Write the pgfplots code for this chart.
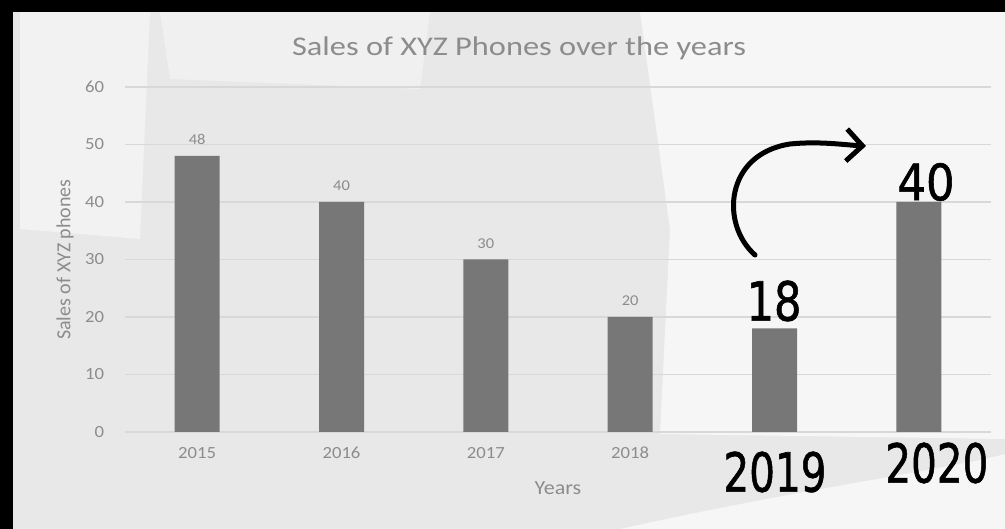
\documentclass[border=0pt]{standalone}
\usepackage{pgfplots}
\pgfplotsset{compat=1.18}
\usetikzlibrary{arrows.meta}
\usepackage{fontspec}
\setmainfont{Carlito}
\newfontfamily\hand[FakeBold=1.2]{DejaVu Sans}
\definecolor{bg}{HTML}{E8E8E8}
\definecolor{wh}{HTML}{F6F6F6}
\definecolor{barc}{HTML}{777777}
\definecolor{txt}{HTML}{8C8C8C}
\definecolor{gridc}{HTML}{D8D8D8}
\begin{document}
\begin{tikzpicture}
\begin{scope}[x=0.5pt,y=0.5pt]
\path[use as bounding box] (0,0) rectangle (1005,529);
\fill[bg] (0,0) rectangle (1005,529);
\fill[wh] (640,517) -- (1005,517) -- (1005,90) -- (660,95) -- (670,300) -- cycle;
\fill[wh!70!bg] (20,517) -- (150,517) -- (140,290) -- (20,300) -- cycle;
\fill[wh!60!bg] (160,517) -- (430,517) -- (420,440) -- (170,450) -- cycle;
\fill[wh] (620,0) .. controls (800,40) and (950,60) .. (1005,75) -- (1005,0) -- cycle;
\fill[black] (0,0) rectangle (13,529);
\fill[black] (0,517) rectangle (1005,529);
\end{scope}
\begin{axis}[
  at={(62.5pt,48.5pt)}, anchor=south west,
  scale only axis, width=433pt, height=172.5pt,
  xmin=-0.5, xmax=5.5, ymin=0, ymax=60,
  ytick={0,10,...,60},
  xtick={0,1,2,3,4,5},
  xticklabels={2015,2016,2017,2018,,},
  xmajorgrids=false, ymajorgrids=true,
  grid style={draw=gridc, line width=0.6pt},
  axis line style={draw=none},
  major tick length=0pt,
  tick label style={font=\fontsize{8.5}{9}\selectfont, text=txt, xscale=1.1},
  /pgf/number format/assume math mode=true,
  yticklabel style={xshift=-6pt},
  xticklabel style={yshift=-4pt},
  xlabel={Years}, ylabel={Sales of XYZ phones},
  label style={font=\fontsize{10}{11}\selectfont, text=txt},
  xlabel style={at={(axis description cs:0.5,0)}, anchor=center, yshift=-28pt, xscale=1.1},
  ylabel style={at={(axis description cs:-0.0693,0.5)}, anchor=center},
  ybar, bar width=22.5pt,
]
\addplot[fill=barc, draw=none, bar shift=0pt,
  nodes near coords,
  every node near coord/.append style={font=\fontsize{7.5}{8}\selectfont, text=txt, xscale=1.1, yshift=2pt}]
  coordinates {(0,48) (1,40) (2,30) (3,20)};
\addplot[fill=barc, draw=none, bar shift=0pt]
  coordinates {(4,18) (5,40)};
\end{axis}
\begin{scope}[x=0.5pt,y=0.5pt]
\node[font=\fontsize{13.5}{15}\selectfont, text=txt, xscale=1.2] at (519,481) {Sales of XYZ Phones over the years};
\node[font=\hand\fontsize{27}{29}\selectfont, xscale=0.8] at (774,228) {18};
\node[font=\hand\fontsize{25}{27}\selectfont, xscale=0.9] at (926,347) {40};
\node[font=\hand\fontsize{27}{29}\selectfont, xscale=0.75] at (775,57) {2019};
\node[font=\hand\fontsize{27}{29}\selectfont, xscale=0.75, anchor=west] at (880,66) {2020};
\draw[line width=2.5pt, line cap=round, -{Straight Barb[length=8pt]}]
  (755,274) .. controls (720,305) and (725,375) .. (790,385) .. controls (820,388) and (845,384) .. (866,383);
\end{scope}
\end{tikzpicture}
\end{document}
